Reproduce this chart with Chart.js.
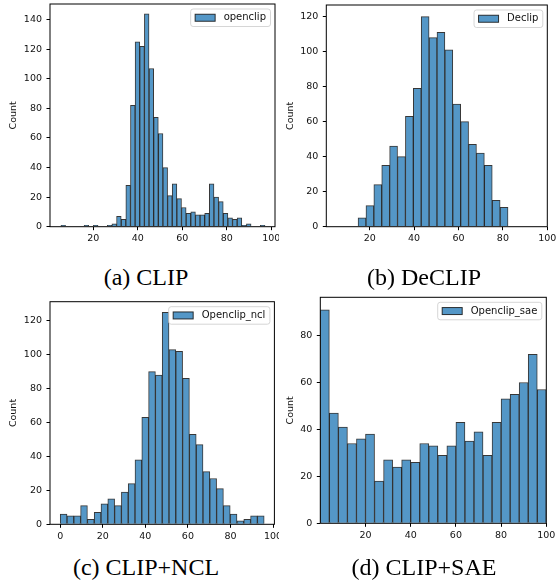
<!DOCTYPE html>
<html>
<head>
<meta charset="utf-8">
<script src="https://cdn.jsdelivr.net/npm/chart.js@4.4.1/dist/chart.umd.min.js"></script>
<style>
body{margin:0;background:#fff;width:558px;height:582px;position:relative;overflow:hidden}
canvas{position:absolute}
.cap{position:absolute;width:260px;text-align:center;font:24px/24px "Liberation Serif",serif;color:#000;white-space:nowrap}
</style>
</head>
<body>
<canvas id="c0"></canvas>
<canvas id="c1"></canvas>
<canvas id="c2"></canvas>
<canvas id="c3"></canvas>
<div class="cap" style="left:16px;top:264.7px">(a) CLIP</div>
<div class="cap" style="left:294px;top:264.7px">(b) DeCLIP</div>
<div class="cap" style="left:16px;top:554.7px">(c) CLIP+NCL</div>
<div class="cap" style="left:294px;top:554.7px">(d) CLIP+SAE</div>
<script>
// histogram counts
var clipCounts = [1,0,0,0,0,1,0,1,0,0,1,2,7,5,28,82,125,122,144,107,74,63,40,21,29,19,13,9,10,8,8,9,29,20,17,9,6,5,6,1,2,0,0,1];
var clipBinStart = 5.5, clipBinWidth = 2.084;

var declipCounts = [5,12,24,35,46,40,63,79,120,108,111,101,70,60,47,42,35,15,11];
var declipBinStart = 14.76, declipBinWidth = 3.555;

var nclCounts = [6,5,5,11,3,7,12,15,11,19,24,38,63,90,88,125,103,102,86,53,47,31,27,21,11,6,2,3,5,5];
var nclBinStart = 0, nclBinWidth = 3.195;

var saeCounts = [91,47,41,34,36,38,18,27,24,27,26,34,33,29,33,43,35,39,29,43,53,55,60,72,57];
var saeBinStart = 0, saeBinWidth = 4;

var labels = ['openclip', 'Declip', 'Openclip_ncl', 'Openclip_sae'];

var xTicksClip = [20,40,60,80,100];
var xTicksDeclip = [20,40,60,80,100];
var xTicksNcl = [0,20,40,60,80,100];
var xTicksSae = [20,40,60,80,100];
var yTicksClip = [0,20,40,60,80,100,120,140];
var yTicksDeclip = [0,20,40,60,80,100,120];
var yTicksNcl = [0,20,40,60,80,100,120];
var yTicksSae = [0,20,40,60,80];

var barFill = 'rgb(84,151,199)';
var barEdge = 'rgba(20,20,20,0.85)';
var tickFont = {family: 'DejaVu Sans', size: 9.5};

// canvas box and axes area in page pixels: [left, top, right, bottom]
var panels = [
  {id:'c0', label:labels[0], counts:clipCounts, start:clipBinStart, width:clipBinWidth,
   xTicks:xTicksClip, yTicks:yTicksClip, xMin:0.6, xMax:101.7, yMax:150.6,
   box:[0,0,278.5,250], area:[50,4,275,226.7], titlePad:8.3},
  {id:'c1', label:labels[1], counts:declipCounts, start:declipBinStart, width:declipBinWidth,
   xTicks:xTicksDeclip, yTicks:yTicksDeclip, xMin:0.45, xMax:100, yMax:126.6,
   box:[278,0,558,250], area:[326.3,5,547.3,226.7], titlePad:7.3},
  {id:'c2', label:labels[2], counts:nclCounts, start:nclBinStart, width:nclBinWidth,
   xTicks:xTicksNcl, yTicks:yTicksNcl, xMin:-4.8, xMax:100.65, yMax:131.2,
   box:[0,290,278.5,550], area:[50,301.7,274.4,524.3], titlePad:8.3},
  {id:'c3', label:labels[3], counts:saeCounts, start:saeBinStart, width:saeBinWidth,
   xTicks:xTicksSae, yTicks:yTicksSae, xMin:0, xMax:100, yMax:96.3,
   box:[278,290,558,550], area:[320.3,297.3,546.3,523.3], titlePad:7.3}
];

var frameAndLegend = {
  id: 'frameAndLegend',
  afterDatasetsDraw: function(chart) {
    var ctx = chart.ctx, a = chart.chartArea;
    var label = chart.data.datasets[0].label;
    ctx.save();
    ctx.strokeStyle = '#000';
    ctx.lineWidth = 1;
    ctx.strokeRect(a.left, a.top, a.right - a.left, a.bottom - a.top);

    ctx.font = '10px "DejaVu Sans"';
    var tw = ctx.measureText(label).width;
    var bw = 4.5 + 20 + 8.5 + tw + 4.5, bh = 17.5;
    var bx = a.right - 4.5 - bw, by = a.top + 5;
    ctx.beginPath();
    ctx.roundRect(bx, by, bw, bh, 2.5);
    ctx.fillStyle = 'rgba(255,255,255,0.8)';
    ctx.fill();
    ctx.strokeStyle = 'rgba(204,204,204,0.8)';
    ctx.lineWidth = 1;
    ctx.stroke();
    var px = bx + 4.5, py = by + bh / 2 - 3.5;
    ctx.fillStyle = barFill;
    ctx.fillRect(px, py, 20, 7);
    ctx.strokeStyle = barEdge;
    ctx.strokeRect(px, py, 20, 7);
    ctx.fillStyle = '#111';
    ctx.textBaseline = 'middle';
    ctx.textAlign = 'left';
    ctx.fillText(label, px + 28.5, by + bh / 2);
    ctx.restore();
  }
};

panels.forEach(function(p) {
  var cv = document.getElementById(p.id);
  var w = Math.ceil(p.box[2] - p.box[0]), h = p.box[3] - p.box[1];
  cv.width = w; cv.height = h;
  cv.style.left = p.box[0] + 'px';
  cv.style.top = p.box[1] + 'px';
  cv.style.width = w + 'px';
  cv.style.height = h + 'px';
  // crop the figure where the subfigure image ends
  cv.style.clip = 'rect(0px,' + (p.box[2] - p.box[0]) + 'px,' + h + 'px,0px)';

  var pts = p.counts.map(function(c, i) {
    return {x: p.start + (i + 0.5) * p.width, y: c};
  });

  new Chart(cv.getContext('2d'), {
    type: 'bar',
    data: {
      datasets: [{
        label: p.label,
        data: pts,
        backgroundColor: barFill,
        borderColor: barEdge,
        borderWidth: 1,
        borderSkipped: 'start',
        barPercentage: 1,
        categoryPercentage: 1
      }]
    },
    options: {
      responsive: false,
      animation: false,
      devicePixelRatio: 1,
      layout: {padding: {left: 0, top: p.area[1] - p.box[1], right: w - (p.area[2] - p.box[0]), bottom: 0}},
      plugins: {legend: {display: false}, tooltip: {enabled: false}},
      scales: {
        x: {
          type: 'linear', min: p.xMin, max: p.xMax, offset: false,
          afterBuildTicks: function(s) { s.ticks = p.xTicks.map(function(v) { return {value: v}; }); },
          afterFit: function(s) { s.height = p.box[3] - p.area[3]; s.paddingLeft = 0; s.paddingRight = 0; },
          grid: {display: true, offset: false, drawOnChartArea: false, drawTicks: true, tickLength: 3.5, color: '#000'},
          border: {display: false},
          ticks: {font: tickFont, color: '#111', padding: 3, maxRotation: 0, autoSkip: false}
        },
        y: {
          min: 0, max: p.yMax,
          afterBuildTicks: function(s) { s.ticks = p.yTicks.map(function(v) { return {value: v}; }); },
          afterFit: function(s) { s.width = p.area[0] - p.box[0]; s.paddingTop = 0; s.paddingBottom = 0; },
          grid: {display: true, drawOnChartArea: false, drawTicks: true, tickLength: 3.5, color: '#000'},
          border: {display: false},
          ticks: {font: tickFont, color: '#111', padding: 4.5, autoSkip: false},
          title: {display: true, text: 'Count', font: tickFont, color: '#111', padding: {top: p.titlePad, bottom: 0}}
        }
      }
    },
    plugins: [frameAndLegend]
  });
});
</script>
</body>
</html>
